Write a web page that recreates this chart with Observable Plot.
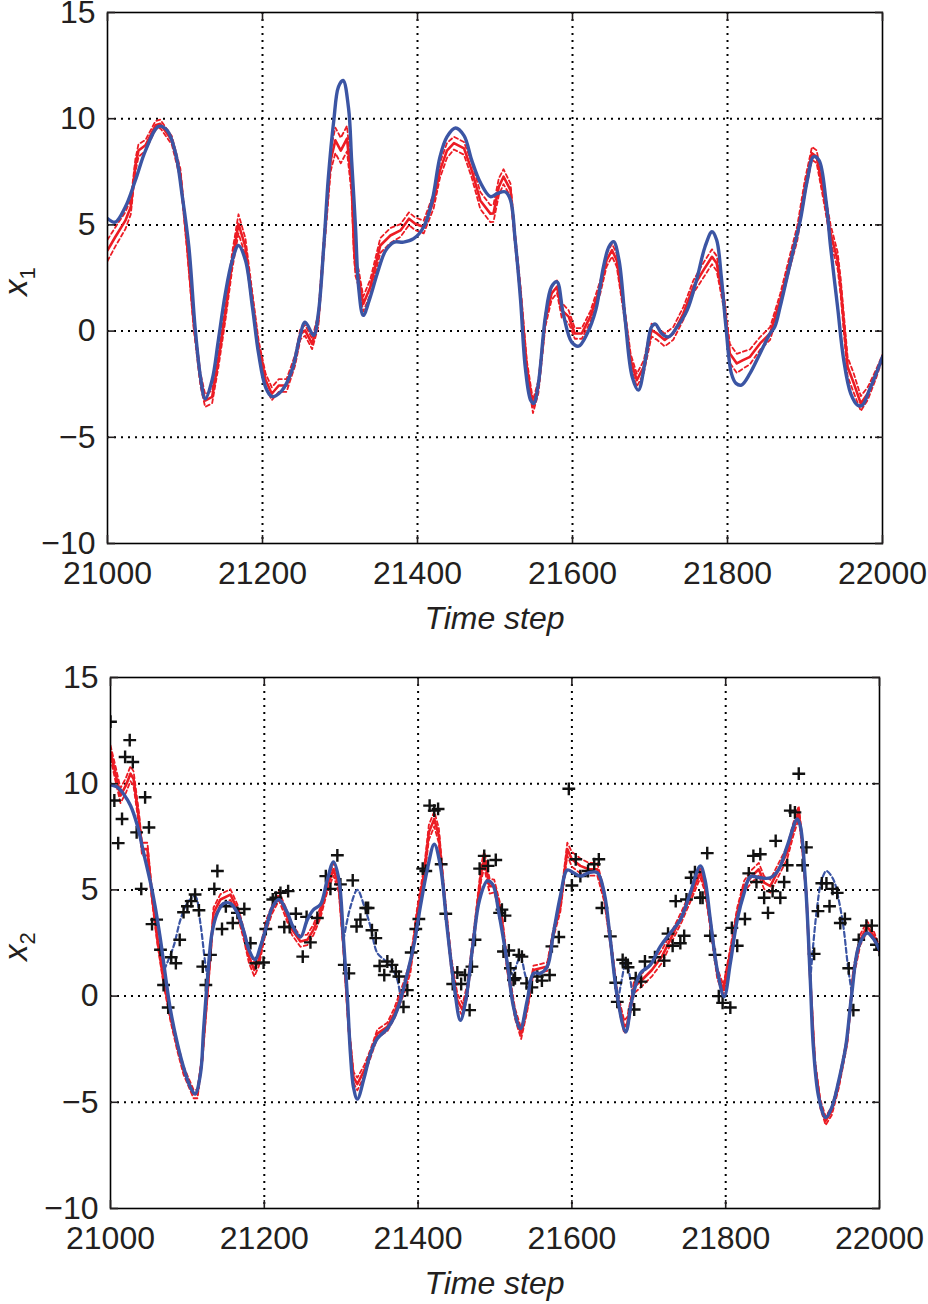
<!DOCTYPE html>
<html>
<head>
<meta charset="utf-8">
<script src="https://cdn.jsdelivr.net/npm/d3@7"></script>
<script src="https://cdn.jsdelivr.net/npm/@observablehq/plot@0.6"></script>
<style>
  body { margin: 0; background: #fff; }
  svg { display: block; overflow: visible; }
</style>
</head>
<body>
<div id="chart"></div>
<script>
// ---------- axes ----------
const xTicks = [21000, 21200, 21400, 21600, 21800, 22000];
const yTicks = [-10, -5, 0, 5, 10, 15];
const xGrid = [21200, 21400, 21600, 21800];
const yGrid = [-5, 0, 5, 10];
const xLabel = "Time step";

// ---------- panel 1 : x1 ----------
// truth (blue): [time step, value]
const x1Truth = [
  [21000,5.3],[21010,5.13],[21023,5.84],[21036,7.1],[21049,8.5],[21066,9.64],[21077,9.45],[21088,8.35],
  [21096,6.47],[21105,3.96],[21113,0.19],[21120,-2.17],[21126,-3.19],[21135,-2.3],[21143,-0.44],[21152,1.76],
  [21161,3.33],[21169,4.03],[21178,3.33],[21187,1.13],[21195,-1.07],[21204,-2.64],[21212,-3.08],[21225,-2.8],
  [21238,-1.85],[21248,-0.3],[21255,0.42],[21266,-0.2],[21272,0.82],[21279,3.96],[21285,7.25],[21292,9.92],
  [21298,11.5],[21304,11.8],[21311,10.5],[21315,8.04],[21320,4.9],[21324,2.07],[21330,0.74],[21339,1.6],
  [21348,2.7],[21359,3.8],[21370,4.19],[21382,4.19],[21395,4.35],[21408,4.9],[21419,6.15],[21429,8.2],
  [21438,9.14],[21449,9.56],[21460,9.2],[21470,8.04],[21481,7.0],[21494,6.33],[21503,6.48],[21513,6.56],
  [21520,6.17],[21526,4.29],[21533,1.46],[21539,-1.68],[21546,-3.25],[21550,-3.4],[21556,-2.46],[21565,0.68],
  [21573,2.09],[21580,2.32],[21588,0.83],[21599,-0.52],[21608,-0.71],[21619,-0.11],[21630,0.99],[21640,3.03],
  [21647,3.97],[21653,4.21],[21660,3.34],[21668,0.52],[21677,-2.15],[21685,-2.78],[21694,-1.37],[21702,0.2],
  [21707,0.33],[21715,-0.11],[21724,-0.27],[21735,0.2],[21748,0.99],[21760,2.4],[21771,3.97],[21780,4.68],
  [21786,4.29],[21792,2.56],[21798,0.2],[21805,-1.99],[21811,-2.46],[21818,-2.54],[21829,-1.99],[21842,-1.05],
  [21855,-0.11],[21861,0.2],[21868,1.15],[21877,2.56],[21886,3.97],[21894,5.23],[21903,7.11],[21911,8.21],
  [21918,8.05],[21927,6.17],[21933,3.97],[21942,1.15],[21950,-1.37],[21959,-2.94],[21968,-3.49],[21974,-3.49],
  [21983,-2.78],[21992,-1.99],[22000,-1.21]
];
// ensemble (red): [time step, mean, spread]
const x1Ensemble = [
  [21000,3.8,0.5],[21010,4.43,0.45],[21023,5.2,0.4],[21030,5.84,0.35],[21036,7.8,0.3],[21040,8.5,0.3],
  [21049,8.75,0.25],[21062,9.69,0.2],[21068,9.76,0.2],[21083,8.98,0.2],[21094,7.4,0.25],[21103,3.96,0.3],
  [21111,0.5,0.3],[21120,-2.3,0.3],[21126,-3.27,0.3],[21135,-3.1,0.3],[21143,-1.38,0.35],[21152,0.82,0.35],
  [21161,3.33,0.4],[21169,5.05,0.45],[21178,3.96,0.4],[21187,1.44,0.35],[21195,-0.75,0.3],[21204,-2.3,0.3],
  [21212,-2.95,0.3],[21221,-2.56,0.3],[21231,-2.56,0.3],[21242,-1.38,0.25],[21249,-0.13,0.25],[21255,0.03,0.25],
  [21264,-0.6,0.25],[21272,0.5,0.3],[21279,3.96,0.4],[21288,8.04,0.5],[21294,8.98,0.6],[21301,8.5,0.6],
  [21309,9.06,0.6],[21315,6.94,0.5],[21318,4.0,0.5],[21320,3.0,0.4],[21324,2.5,0.4],[21330,1.28,0.35],
  [21339,2.07,0.35],[21352,4.03,0.35],[21365,4.5,0.35],[21378,4.74,0.3],[21389,5.29,0.3],[21397,5.05,0.3],
  [21408,4.9,0.3],[21421,6.15,0.35],[21429,7.57,0.35],[21438,8.5,0.35],[21447,8.85,0.3],[21460,8.6,0.3],
  [21470,7.57,0.35],[21481,6.15,0.4],[21494,5.53,0.4],[21498,5.54,0.4],[21505,6.8,0.4],[21511,7.27,0.35],
  [21520,6.64,0.3],[21526,4.29,0.3],[21533,1.77,0.3],[21541,-1.68,0.3],[21549,-3.56,0.3],[21556,-2.62,0.3],
  [21565,0.52,0.3],[21573,1.77,0.3],[21580,2.09,0.3],[21586,0.99,0.35],[21595,0.68,0.3],[21603,-0.11,0.25],
  [21612,-0.11,0.25],[21623,0.68,0.25],[21636,2.09,0.3],[21644,3.34,0.3],[21651,3.81,0.3],[21657,3.34,0.3],
  [21666,1.15,0.3],[21675,-1.37,0.3],[21683,-2.31,0.3],[21692,-1.68,0.3],[21702,0.05,0.3],[21709,-0.11,0.3],
  [21719,-0.42,0.3],[21730,-0.11,0.3],[21743,0.83,0.3],[21756,2.09,0.3],[21769,2.87,0.35],[21780,3.5,0.35],
  [21786,3.19,0.35],[21795,1.46,0.35],[21803,-1.05,0.45],[21812,-1.52,0.45],[21820,-1.37,0.4],[21829,-1.21,0.35],
  [21842,-0.58,0.3],[21855,-0.11,0.3],[21868,1.46,0.3],[21881,3.34,0.3],[21890,4.6,0.35],[21900,6.8,0.35],
  [21909,8.37,0.3],[21915,8.21,0.3],[21924,6.48,0.35],[21933,4.6,0.4],[21942,3.34,0.4],[21946,2.09,0.4],
  [21955,-1.68,0.45],[21963,-2.46,0.45],[21972,-3.41,0.35],[21981,-2.94,0.3],[21992,-1.99,0.2],[22000,-1.21,0.1]
];

// ---------- panel 2 : x2 ----------
const x2Truth = [
  [21000,9.95],[21009,9.84],[21017,9.52],[21026,8.97],[21035,8.02],[21043,6.76],[21052,5.34],[21058,4.23],
  [21065,2.65],[21071,1.07],[21078,-0.66],[21087,-2.24],[21095,-3.35],[21104,-4.3],[21110,-4.61],[21117,-3.66],
  [21121,-1.61],[21126,0.76],[21132,2.97],[21139,3.92],[21147,4.36],[21156,4.36],[21165,3.92],[21174,2.97],
  [21180,2.18],[21188,1.71],[21195,2.34],[21204,3.44],[21210,4.15],[21219,4.55],[21230,3.92],[21238,3.21],
  [21247,2.78],[21256,3.6],[21264,4.07],[21273,4.31],[21282,5.49],[21290,6.32],[21297,5.49],[21303,2.65],
  [21308,-0.03],[21312,-2.72],[21316,-4.3],[21321,-4.85],[21330,-3.82],[21338,-2.72],[21347,-2.0],[21360,-1.53],
  [21369,-0.98],[21377,-0.19],[21386,1.07],[21395,2.49],[21403,4.23],[21412,5.97],[21421,7.15],[21429,6.13],
  [21438,3.13],[21447,0.44],[21455,-1.14],[21462,-0.19],[21471,2.34],[21480,4.55],[21490,5.42],[21497,5.26],
  [21505,3.92],[21516,1.55],[21524,-0.5],[21533,-1.53],[21542,-0.19],[21550,1.07],[21559,1.07],[21568,1.39],
  [21576,2.97],[21585,4.71],[21594,5.94],[21602,5.81],[21611,5.65],[21622,5.81],[21633,5.81],[21642,4.86],
  [21650,2.65],[21659,-0.03],[21670,-1.69],[21678,-0.19],[21689,1.07],[21702,1.47],[21715,2.34],[21728,2.97],
  [21741,3.6],[21754,4.86],[21767,6.13],[21773,5.49],[21780,3.6],[21789,1.23],[21798,-0.03],[21806,1.55],
  [21815,3.6],[21824,4.86],[21832,5.62],[21845,5.57],[21858,5.57],[21869,5.97],[21880,7.07],[21893,8.34],
  [21897,8.02],[21904,5.18],[21910,0.76],[21914,-2.4],[21921,-4.77],[21930,-5.72],[21938,-5.24],[21947,-3.98],
  [21956,-2.4],[21964,0.13],[21973,2.34],[21984,2.97],[21993,2.65],[22000,2.18]
];
// free-running model segments (blue dashed): [segment, time step, value]
const x2Free = [
  ["a",21070,1.25],["a",21082,2.34],["a",21091,3.6],["a",21100,4.39],["a",21110,4.7],["a",21117,3.4],["a",21123,1.6],["a",21126,0.9],
  ["b",21303,2.65],["b",21312,4.2],["b",21321,5.0],["b",21330,4.23],["b",21338,3.28],["b",21347,2.02],["b",21356,1.71],["b",21365,1.39],["b",21373,0.76],["b",21377,-0.03],
  ["c",21518,0.9],["c",21526,1.3],["c",21533,1.86],["c",21540,0.9],["c",21546,0.45],
  ["d",21660,-0.2],["d",21666,1.0],["d",21670,1.7],["d",21674,1.2],["d",21679,0.0],
  ["e",21910,0.76],["e",21918,3.92],["e",21925,5.49],["e",21931,5.89],["e",21940,5.49],["e",21946,4.7],["e",21953,3.28],["e",21959,1.39],["e",21964,0.13]
];
// ensemble (red): [time step, mean, spread]
const x2Ensemble = [
  [21000,11.5,0.3],[21007,10.39,0.35],[21013,9.44,0.35],[21020,9.92,0.35],[21026,10.47,0.35],[21030,10.23,0.35],
  [21037,8.34,0.3],[21041,6.92,0.3],[21048,6.92,0.3],[21054,4.71,0.25],[21061,2.65,0.2],[21069,0.76,0.2],
  [21078,-0.98,0.2],[21087,-2.4,0.2],[21095,-3.5,0.2],[21108,-4.61,0.2],[21113,-4.61,0.2],[21119,-3.03,0.2],
  [21126,0.13,0.2],[21134,3.92,0.25],[21143,4.55,0.25],[21156,4.78,0.25],[21165,4.07,0.25],[21174,2.81,0.25],
  [21180,1.86,0.3],[21187,1.23,0.3],[21193,1.71,0.3],[21202,3.28,0.25],[21210,4.07,0.2],[21219,4.71,0.2],
  [21228,3.92,0.25],[21236,3.13,0.25],[21247,2.57,0.25],[21256,2.65,0.25],[21264,3.13,0.25],[21273,3.92,0.25],
  [21282,5.18,0.25],[21290,5.97,0.3],[21297,5.18,0.3],[21303,2.34,0.25],[21310,-1.61,0.25],[21316,-3.82,0.25],
  [21321,-4.14,0.3],[21330,-3.5,0.25],[21338,-2.72,0.2],[21347,-1.77,0.2],[21360,-1.45,0.2],[21369,-0.82,0.25],
  [21382,0.44,0.3],[21390,1.39,0.3],[21399,3.92,0.3],[21408,5.81,0.3],[21414,7.71,0.35],[21421,8.34,0.35],
  [21427,7.55,0.35],[21434,4.71,0.3],[21443,1.55,0.3],[21451,-0.19,0.3],[21458,-0.66,0.3],[21464,0.28,0.3],
  [21473,2.97,0.3],[21482,5.81,0.35],[21486,6.44,0.4],[21493,5.18,0.35],[21499,5.18,0.3],[21508,3.92,0.25],
  [21516,1.39,0.25],[21526,-0.82,0.25],[21534,-1.77,0.25],[21542,-0.5,0.2],[21550,1.23,0.2],[21559,1.31,0.2],
  [21568,1.39,0.2],[21576,2.97,0.2],[21585,4.23,0.25],[21594,6.92,0.3],[21600,6.44,0.35],[21611,6.13,0.35],
  [21622,5.97,0.3],[21633,5.97,0.3],[21642,4.71,0.25],[21650,2.65,0.25],[21659,-0.03,0.25],[21668,-1.45,0.3],
  [21672,-1.29,0.3],[21681,0.44,0.3],[21691,0.76,0.3],[21704,1.23,0.3],[21717,1.86,0.3],[21730,2.81,0.25],
  [21743,3.76,0.25],[21756,4.86,0.25],[21767,5.81,0.25],[21773,5.18,0.25],[21780,3.44,0.25],[21789,1.07,0.25],
  [21797,0.28,0.25],[21806,2.02,0.25],[21815,3.92,0.25],[21824,5.18,0.25],[21834,5.65,0.3],[21843,5.97,0.3],
  [21850,5.34,0.3],[21858,5.18,0.3],[21869,5.97,0.3],[21880,6.76,0.3],[21888,7.86,0.3],[21895,8.65,0.3],
  [21899,7.39,0.25],[21905,4.71,0.2],[21910,0.76,0.2],[21916,-3.19,0.2],[21923,-5.08,0.2],[21930,-5.87,0.2],
  [21938,-5.4,0.2],[21947,-4.14,0.2],[21958,-2.08,0.2],[21966,1.07,0.25],[21975,2.65,0.25],[21984,3.28,0.25],
  [21993,2.81,0.2],[22000,2.18,0.15]
];
// observations (black +): [time step, value]
const x2Obs = [
  [21000,12.92],[21025,12.05],[21019,11.26],[21029,11.02],[21005,9.21],[21015,8.34],[21010,7.2],[21034,7.71],
  [21045,9.36],[21050,7.94],[21040,5.05],[21054,3.39],[21060,3.6],[21065,2.18],[21069,0.52],[21075,-0.54],
  [21079,1.83],[21085,1.55],[21090,2.65],[21095,3.95],[21100,4.23],[21105,4.47],[21110,4.78],[21115,4.04],
  [21120,1.39],[21124,0.52],[21130,1.94],[21135,5.05],[21139,5.89],[21145,3.16],[21150,4.23],[21159,3.44],
  [21165,3.92],[21174,4.1],[21182,2.49],[21189,1.55],[21199,1.58],[21202,3.16],[21211,4.55],[21215,4.63],
  [21221,4.86],[21226,3.25],[21231,4.94],[21233,3.25],[21241,3.88],[21250,1.86],[21255,3.73],[21260,2.53],
  [21269,3.68],[21280,5.65],[21286,5.05],[21295,6.63],[21299,5.26],[21304,1.47],[21310,1.07],[21315,5.45],
  [21320,3.28],[21325,3.6],[21332,4.15],[21335,4.15],[21340,3.1],[21345,2.73],[21350,1.42],[21356,0.99],
  [21360,1.63],[21366,1.47],[21371,1.15],[21375,0.92],[21381,-0.51],[21386,0.28],[21391,2.05],[21397,3.16],
  [21401,3.63],[21406,6.0],[21410,5.89],[21415,8.97],[21421,8.73],[21426,8.81],[21430,6.21],[21436,3.88],
  [21445,0.57],[21451,1.11],[21456,0.57],[21461,0.99],[21467,-0.66],[21470,1.39],[21474,2.65],[21480,6.0],
  [21486,6.6],[21491,6.13],[21501,6.41],[21506,3.92],[21513,3.79],[21518,2.15],[21526,0.84],[21531,1.94],
  [21509,4.07],[21511,2.1],[21520,1.31],[21524,0.76],[21535,1.86],[21541,0.6],[21548,0.41],[21555,0.92],
  [21561,0.73],[21571,0.99],[21574,2.34],[21583,2.78],[21596,9.76],[21600,5.21],[21605,6.44],[21611,5.65],
  [21621,5.89],[21629,6.21],[21635,6.44],[21639,4.15],[21650,2.81],[21657,0.63],[21659,-0.27],[21666,1.71],
  [21670,1.55],[21673,1.36],[21681,-0.63],[21683,0.84],[21690,0.68],[21695,1.63],[21708,1.83],[21720,1.67],
  [21725,2.94],[21731,2.37],[21741,2.49],[21746,2.84],[21735,4.47],[21749,4.55],[21755,5.57],[21760,5.84],
  [21767,4.63],[21770,4.63],[21776,6.73],[21780,2.84],[21786,1.94],[21791,0.0],[21796,-0.32],[21806,-0.54],
  [21808,3.21],[21815,2.37],[21825,3.63],[21830,5.78],[21836,6.6],[21845,6.68],[21840,5.37],[21850,4.63],
  [21855,3.92],[21861,4.94],[21865,7.31],[21871,4.63],[21876,5.37],[21880,6.16],[21884,8.73],[21890,8.65],
  [21895,10.47],[21900,6.16],[21905,7.0],[21915,1.99],[21920,4.0],[21925,5.31],[21931,5.31],[21935,4.23],
  [21939,5.05],[21945,4.86],[21949,3.44],[21955,3.63],[21960,1.31],[21966,-0.66],[21973,2.65],[21983,3.32],
  [21990,3.32],[21996,2.42],[22000,2.18]
];

// ---------- styles ----------
const BLUE = "#3b55a4";
const RED = "#ec1c24";
const FONT = "'Liberation Sans', Arial, Helvetica, sans-serif";

function panel({truth, ensemble, free, obs, sub, height, marginTop, marginBottom, marginLeft, marginRight}) {
  const T = truth.map(([t, v]) => ({t, v}));
  const E = ensemble.map(([t, m, s]) => ({t, m, hi: m + s, lo: m - s}));
  const marks = [
    Plot.ruleY(yGrid, {stroke: "#000", strokeWidth: 2, strokeDasharray: "2,5"}),
    Plot.ruleX(xGrid, {stroke: "#000", strokeWidth: 2, strokeDasharray: "2,5"}),
    Plot.line(E, {x: "t", y: "hi", stroke: RED, strokeWidth: 1.8, strokeDasharray: "4,3", clip: true}),
    Plot.line(E, {x: "t", y: "lo", stroke: RED, strokeWidth: 1.8, strokeDasharray: "4,3", clip: true}),
    Plot.line(E, {x: "t", y: "m", stroke: RED, strokeWidth: 2.6, clip: true})
  ];
  if (free) {
    const F = free.map(([seg, t, v]) => ({seg, t, v}));
    marks.push(Plot.line(F, {x: "t", y: "v", z: "seg", stroke: BLUE, strokeWidth: 2.2, strokeDasharray: "5,3", curve: "catmull-rom", clip: true}));
  }
  if (obs) {
    const O = obs.map(([t, v]) => ({t, v}));
    marks.push(Plot.dot(O, {x: "t", y: "v", symbol: "plus", r: 4.2, stroke: "#111", strokeWidth: 2.4, clip: true}));
  }
  marks.push(
    Plot.line(T, {x: "t", y: "v", stroke: BLUE, strokeWidth: 3.4, curve: "catmull-rom", clip: true}),
    Plot.frame({stroke: "#000", strokeWidth: 1.6}),
    Plot.axisX({anchor: "bottom", ticks: xTicks, tickSize: -8, tickPadding: 26, tickFormat: d3.format("d"), label: null, strokeWidth: 1.6}),
    Plot.axisX({anchor: "top", ticks: xTicks, tickSize: -8, tickFormat: () => "", label: null, strokeWidth: 1.6}),
    Plot.axisY({anchor: "left", ticks: yTicks, tickSize: -8, tickPadding: 20, tickFormat: d3.format("d"), label: null, strokeWidth: 1.6}),
    Plot.axisY({anchor: "right", ticks: yTicks, tickSize: -8, tickFormat: () => "", label: null, strokeWidth: 1.6})
  );
  const svg = Plot.plot({
    width: 928, height, marginTop, marginBottom, marginLeft, marginRight,
    x: {domain: [21000, 22000]},
    y: {domain: [-10, 15]},
    style: {fontFamily: FONT, fontSize: "32px", color: "#231f20", background: "#fff", overflow: "visible"},
    marks
  });
  const s = d3.select(svg);
  const plotBottom = height - marginBottom;
  const plotTop = marginTop;
  const cx = (marginLeft + 928 - marginRight) / 2;
  s.append("text")
    .attr("x", cx).attr("y", plotBottom + 86)
    .attr("text-anchor", "middle")
    .style("font-family", FONT).style("font-size", "32px").style("font-style", "italic")
    .attr("fill", "#231f20")
    .text(xLabel);
  const ylab = s.append("text")
    .attr("transform", `translate(27,${(plotTop + plotBottom) / 2 + 4}) rotate(-90)`)
    .attr("text-anchor", "middle")
    .style("font-family", FONT).style("font-size", "33px")
    .attr("fill", "#231f20");
  ylab.append("tspan").style("font-style", "italic").text("x");
  ylab.append("tspan").attr("dy", 8).style("font-size", "22px").text(sub);
  return svg;
}

const chart = document.getElementById("chart");
chart.append(panel({
  truth: x1Truth, ensemble: x1Ensemble, sub: "1",
  height: 640, marginTop: 12, marginBottom: 97, marginLeft: 107, marginRight: 46
}));
chart.append(panel({
  truth: x2Truth, ensemble: x2Ensemble, free: x2Free, obs: x2Obs, sub: "2",
  height: 664, marginTop: 37, marginBottom: 96, marginLeft: 110, marginRight: 49
}));
</script>
</body>
</html>
